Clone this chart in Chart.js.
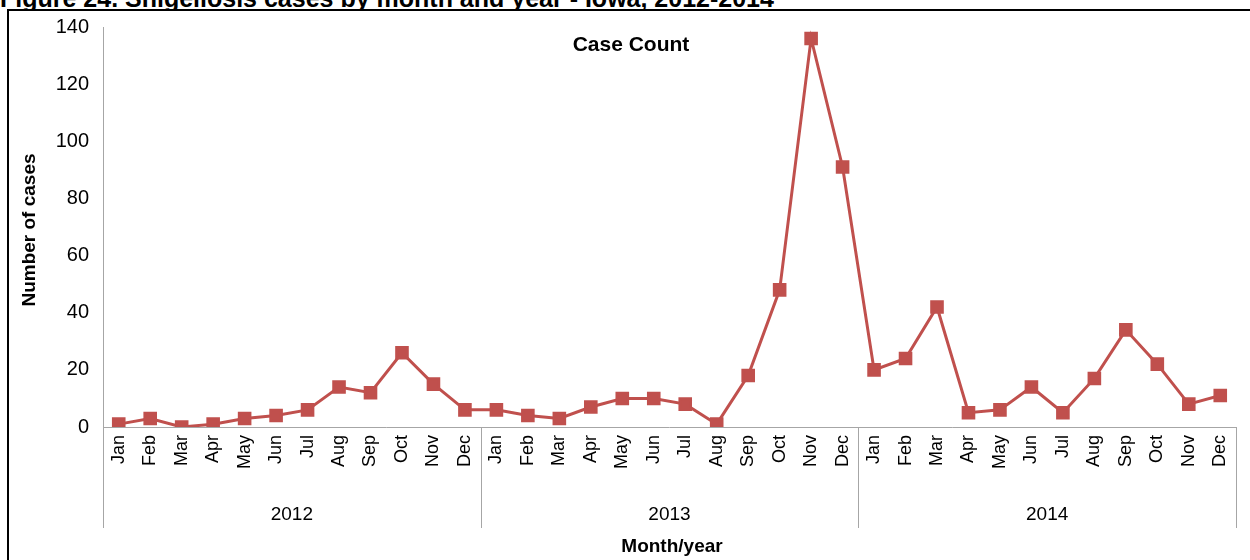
<!DOCTYPE html>
<html>
<head>
<meta charset="utf-8">
<script src="https://cdn.jsdelivr.net/npm/chart.js@4/dist/chart.umd.min.js"></script>
<style>
  html, body { margin: 0; padding: 0; background: #fff; overflow: hidden; }
  #page { position: relative; width: 1250px; height: 560px; overflow: hidden; }
  #fig-title {
    position: absolute; left: 0; top: -16px; white-space: nowrap; line-height: 25px;
    font: bold 25px "Liberation Sans", Arial, sans-serif; color: #000;
  }
  #frame {
    position: absolute; left: 7px; top: 9px; width: 1300px; height: 600px;
    border: 2px solid #000; box-sizing: border-box; background: #fff;
  }
  #wrap { position: absolute; left: 0; top: 0; width: 1250px; height: 560px; }
</style>
</head>
<body>
<div id="page">
  <div id="fig-title">Figure 24. Shigellosis cases by month and year - Iowa, 2012-2014</div>
  <div id="frame"></div>
  <div id="wrap"><canvas id="chart-cases"></canvas></div>
</div>
<script>
const months = ['Jan', 'Feb', 'Mar', 'Apr', 'May', 'Jun', 'Jul', 'Aug', 'Sep', 'Oct', 'Nov', 'Dec'];
const years  = ['2012', '2013', '2014'];
const cases2012 = [1, 3, 0, 1, 3, 4, 6, 14, 12, 26, 15, 6];
const cases2013 = [6, 4, 3, 7, 10, 10, 8, 1, 18, 48, 136, 91];
const cases2014 = [20, 24, 42, 5, 6, 14, 5, 17, 34, 22, 8, 11];
const yTicks = [0, 20, 40, 60, 80, 100, 120, 140];

const labels = years.flatMap(() => months);
const values = [...cases2012, ...cases2013, ...cases2014];

const RED  = '#C0504D';
const GRAY = '#a6a6a6';
const FONT = '"Liberation Sans", Arial, sans-serif';

// Year row, separators and the titles that Chart.js can't place where Excel does
const extras = {
    id: 'extras',
    afterDraw(c) {
        const { ctx, chartArea: a, scales: { x } } = c;
        ctx.save();
        ctx.strokeStyle = GRAY;
        ctx.lineWidth = 1;
        const bottom = 528;
        const edges = [];
        for (let y = 0; y <= years.length; y++) {
            let px;
            if (y === 0) px = a.left;
            else if (y === years.length) px = a.right;
            else px = (x.getPixelForValue(y * 12 - 1) + x.getPixelForValue(y * 12)) / 2;
            edges.push(px);
            ctx.beginPath();
            ctx.moveTo(Math.round(px) + 0.5, a.bottom);
            ctx.lineTo(Math.round(px) + 0.5, bottom);
            ctx.stroke();
        }
        ctx.fillStyle = '#000';
        ctx.textAlign = 'center';
        ctx.textBaseline = 'middle';
        ctx.font = '19px ' + FONT;
        years.forEach((yr, i) => ctx.fillText(yr, (edges[i] + edges[i + 1]) / 2, 515));

        ctx.font = 'bold 19px ' + FONT;
        ctx.fillText('Month/year', 672, 547);
        ctx.font = 'bold 21px ' + FONT;
        ctx.fillText('Case Count', 631, 45);

        ctx.translate(30, 230);
        ctx.rotate(-Math.PI / 2);
        ctx.font = 'bold 19px ' + FONT;
        ctx.fillText('Number of cases', 0, 0);
        ctx.restore();
    },
};

new Chart(document.getElementById('chart-cases'), {
    type: 'line',
    data: {
        labels,
        datasets: [{
            label: 'Case Count',
            data: values,
            borderColor: RED,
            backgroundColor: RED,
            borderWidth: 3,
            pointStyle: 'rect',
            pointRadius: 7.5,
            pointHoverRadius: 7.5,
            tension: 0,
        }],
    },
    options: {
        responsive: true,
        maintainAspectRatio: false,
        animation: false,
        layout: { padding: { left: 0, top: 27, right: 10, bottom: 0 } },
        plugins: {
            legend:  { display: false },
            tooltip: { enabled: false },
        },
        scales: {
            x: {
                offset: true,
                grid: { display: false, drawTicks: false },
                border: { color: GRAY, width: 1 },
                ticks: {
                    color: '#000', font: { family: FONT, size: 18 },
                    minRotation: 90, maxRotation: 90, autoSkip: false, padding: 8,
                },
                afterFit: s => { s.height = 133; },
            },
            y: {
                min: 0, max: 140,
                afterBuildTicks: s => { s.ticks = yTicks.map(v => ({ value: v })); },
                grid: { display: false, drawOnChartArea: false, drawTicks: true, tickLength: 6, color: GRAY },
                border: { color: GRAY, width: 1 },
                ticks: { color: '#000', font: { family: FONT, size: 20 }, padding: 8 },
                afterFit: s => { s.width = 103; },
            },
        },
    },
    plugins: [extras],
});
</script>
</body>
</html>
